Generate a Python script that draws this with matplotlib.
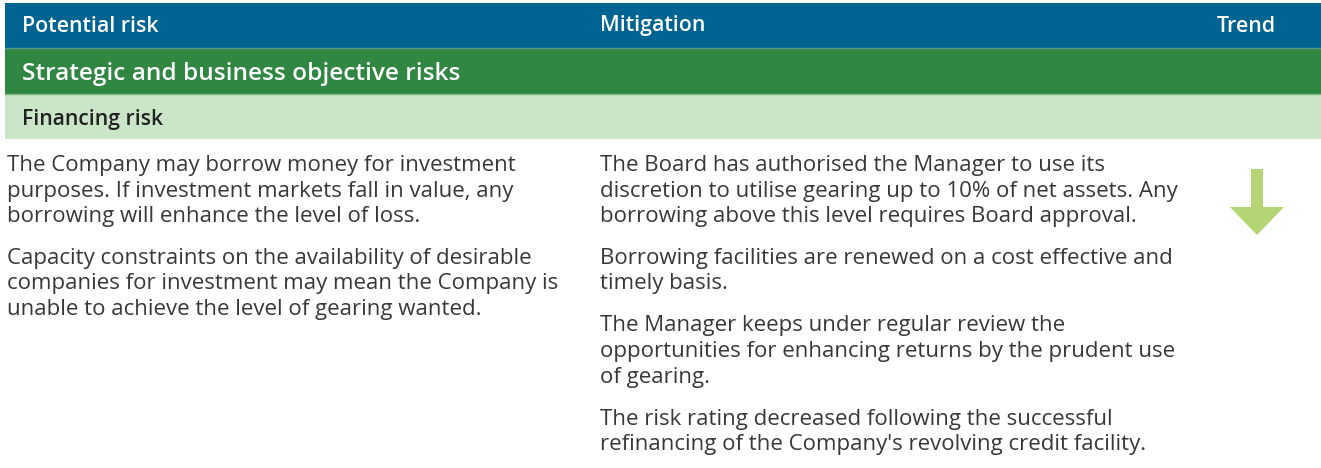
import matplotlib
matplotlib.use("Agg")
import matplotlib.pyplot as plt
from matplotlib.patches import Rectangle, Polygon

# ---- content ----
header_labels = ["Potential risk", "Mitigation", "Trend"]
category_label = "Strategic and business objective risks"
subcategory_label = "Financing risk"

risk_paragraphs = [
    ["The Company may borrow money for investment",
     "purposes. If investment markets fall in value, any",
     "borrowing will enhance the level of loss."],
    ["Capacity constraints on the availability of desirable",
     "companies for investment may mean the Company is",
     "unable to achieve the level of gearing wanted."],
]
mitigation_paragraphs = [
    ["The Board has authorised the Manager to use its",
     "discretion to utilise gearing up to 10% of net assets. Any",
     "borrowing above this level requires Board approval."],
    ["Borrowing facilities are renewed on a cost effective and",
     "timely basis."],
    ["The Manager keeps under regular review the",
     "opportunities for enhancing returns by the prudent use",
     "of gearing."],
    ["The risk rating decreased following the successful",
     "refinancing of the Company's revolving credit facility."],
]
trend = "down"

# ---- style ----
W, H = 1321, 468
BLUE = "#006493"
GREEN = "#2f8741"
LIGHT = "#cae5c8"
ARROW = "#b3d573"
TEXT = "#383838"
FONT = "Open Sans"

fig = plt.figure(figsize=(W / 100, H / 100), dpi=100)
ax = fig.add_axes([0, 0, 1, 1])
ax.set_xlim(0, W)
ax.set_ylim(H, 0)
ax.axis("off")

# bands
ax.add_patch(Rectangle((5, 3), W - 5, 45, color=BLUE, lw=0))
ax.add_patch(Rectangle((5, 48), W - 5, 46, color=GREEN, lw=0))
ax.add_patch(Rectangle((5, 94), W - 5, 45, color=LIGHT, lw=0))
ax.plot([5, W], [48, 48], color="#5a9a8a", lw=1)
ax.plot([5, W], [94, 94], color="#7fb57f", lw=1)

col_x = [22, 600, 1217]
for x, lab in zip(col_x, header_labels):
    ax.text(x, 31.5, lab, color="white", fontsize=15.4, fontfamily=FONT,
            fontweight="semibold", va="baseline", ha="left")
ax.text(22, 80, category_label, color="white", fontsize=17.6, fontfamily=FONT,
        fontweight="semibold", va="baseline", ha="left")
ax.text(22, 125, subcategory_label, color="#222222", fontsize=15.2,
        fontfamily=FONT, fontweight="semibold", va="baseline", ha="left")

LINE = 25.5
PGAP = 16.5
BODY_FS = 16.0


def draw_paragraphs(x, paragraphs, y0=171):
    y = y0
    for para in paragraphs:
        for line in para:
            ax.text(x, y, line, color=TEXT, fontsize=BODY_FS, fontfamily=FONT,
                    va="baseline", ha="left")
            y += LINE
        y += PGAP


draw_paragraphs(7, risk_paragraphs)
draw_paragraphs(600, mitigation_paragraphs)

# trend arrow
if trend == "down":
    cx = 1257
    ax.add_patch(Polygon([(cx - 6, 169), (cx + 6, 169), (cx + 6, 207),
                          (cx + 27, 207), (cx, 235), (cx - 27, 207),
                          (cx - 6, 207)], closed=True, color=ARROW, lw=0))

fig.savefig("out.png", dpi=100)
